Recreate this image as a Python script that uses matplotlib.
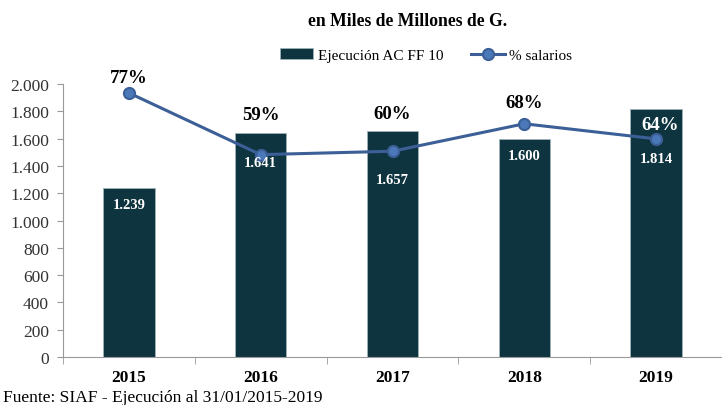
import matplotlib.pyplot as plt
import numpy as np

# Datos
anios = ["2015", "2016", "2017", "2018", "2019"]
ejecucion = [1239, 1641, 1657, 1600, 1814]  # miles de millones de G.
salarios = [0.77, 0.59, 0.60, 0.68, 0.636]  # % salarios
etiquetas_pct = ["77%", "59%", "60%", "68%", "64%"]
etiquetas_ejec = ["1.239", "1.641", "1.657", "1.600", "1.814"]

plt.rcParams['font.family'] = ['Liberation Serif', 'DejaVu Serif']

color_barra = "#0E3440"
color_linea = "#3B5F96"
color_punto = "#4A78B8"

fig = plt.figure(figsize=(7.22, 4.06), dpi=100)
ax = fig.add_axes([63 / 722, 1 - 358 / 406, 1 - 63 / 722, 273 / 406])
x = np.arange(len(anios))

ax.bar(x, ejecucion, width=0.39, color=color_barra, edgecolor="#9FB3BB",
       linewidth=0.6, label="Ejecución AC FF 10", zorder=2)
ax.set_ylim(0, 2000)
ax.set_xlim(-0.5, 4.47)
ax.set_yticks(range(0, 2001, 200))
ax.set_yticklabels([f"{v:,}".replace(",", ".") for v in range(0, 2001, 200)],
                   fontsize=12.5, color="#333333")
ax.set_xticks(x)
ax.set_xticklabels(anios, fontsize=12.5, fontweight="bold")
ax.set_xticks(np.arange(-0.5, 4.6, 1), minor=True)
ax.tick_params(axis="x", which="major", length=0, pad=9)
ax.tick_params(axis="x", which="minor", length=5, color="#999999")
ax.tick_params(axis="y", length=4, color="#999999", pad=6)
for s in ["top", "right"]:
    ax.spines[s].set_visible(False)
ax.spines["left"].set_color("#999999")
ax.spines["bottom"].set_color("#999999")

# Linea de % salarios
ax2 = ax.twinx()
ax2.set_ylim(0, 0.796)
ax2.axis("off")
ax2.plot(x, salarios, color=color_linea, linewidth=2.2, marker="o",
         markersize=8, markerfacecolor=color_punto,
         markeredgecolor=color_linea, markeredgewidth=1.5,
         label="% salarios", zorder=3)

# Etiquetas de las barras (encima de la linea)
desplaz = [-12, -21, -35, -12, -35]
for i, v in enumerate(ejecucion):
    ax2.annotate(etiquetas_ejec[i], (x[i], v), xycoords=ax.transData,
                 xytext=(0, desplaz[i]), textcoords="offset points",
                 ha="center", va="center", color="white", fontsize=10.5,
                 fontweight="bold", zorder=5)

pos_pct = [2050, 1780, 1787, 1868, 1700]
colores_pct = ["black", "black", "black", "black", "white"]
for i, yv in enumerate(pos_pct):
    ax2.text(x[i] + (0.03 if i == 4 else 0), yv, etiquetas_pct[i],
             transform=ax.transData, ha="center", va="center",
             fontsize=13.5, fontweight="bold", color=colores_pct[i],
             clip_on=False, zorder=6)

# Leyenda
h1, l1 = ax.get_legend_handles_labels()
h2, l2 = ax2.get_legend_handles_labels()
fig.legend(h1 + h2, l1 + l2, loc="center", bbox_to_anchor=(0.59, 1 - 56 / 406),
           ncol=2, frameon=False, fontsize=11, handlelength=2.2,
           columnspacing=1.8, handletextpad=0.3)

fig.text(0.565, 1 - 22 / 406, "en Miles de Millones de G.", ha="center",
         va="center", fontsize=12.7, fontweight="bold")
fig.text(3 / 722, 1 - 398 / 406, "Fuente: SIAF - Ejecución al 31/01/2015-2019",
         ha="left", va="center", fontsize=12.5)

fig.savefig("out.png", dpi=100)
